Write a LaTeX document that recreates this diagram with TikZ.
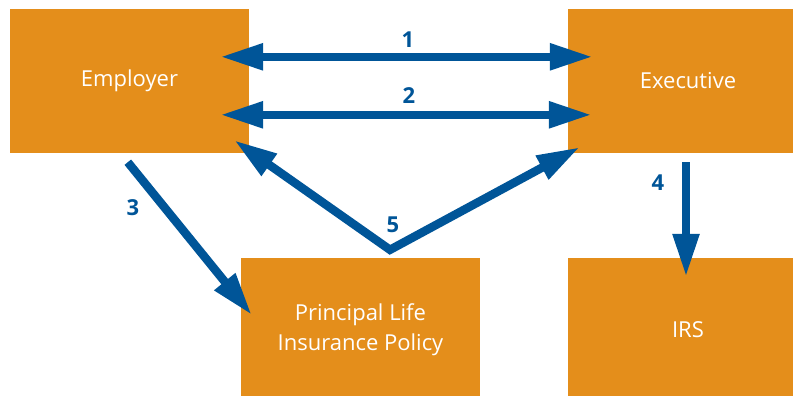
\documentclass[tikz,border=0pt]{standalone}
\usepackage{fontspec}
\setmainfont{Open Sans}
\usetikzlibrary{arrows.meta,calc}
\definecolor{boxorange}{RGB}{228,142,27}
\definecolor{flowblue}{RGB}{0,85,152}
\begin{document}
\begin{tikzpicture}[x=1pt,y=-1pt,
  party/.style={fill=boxorange, draw=none, inner sep=0pt,
    minimum width=240pt, minimum height=144pt, text=white,
    font=\fontsize{22}{30}\selectfont, align=center},
  flowtip/.tip={Triangle[length=43pt,width=25pt]},
  flow/.style={draw=flowblue, line width=8.5pt, line join=miter, -flowtip},
  twoway/.style={flow, flowtip-flowtip},
  numlabel/.style={text=flowblue, font=\fontsize{22}{26}\selectfont\bfseries, inner sep=0pt}
]
\useasboundingbox (0,0) rectangle (793,396);
\clip (0,0) rectangle (793,396);

% parties
\node[party, minimum width=239pt] (emp) at (129.5,81) {Employer};
\node[party] (exe) at (688,81) {Executive};
\node[party, minimum width=239pt] (pol) at (360.5,330) {Principal Life\\Insurance Policy};
\node[party] (irs) at (688,330) {IRS};

% connector end points
\coordinate (e1) at ($(emp.north east)+(-29,48)$);
\coordinate (e2) at ($(emp.north east)+(-29,106)$);
\coordinate (e3) at ($(emp.south west)+(118,9)$);
\coordinate (e5) at ($(emp.south east)+(-15,-13)$);
\coordinate (x1) at ($(exe.north west)+(25,48)$);
\coordinate (x2) at ($(exe.north west)+(24,106)$);
\coordinate (x4) at ($(exe.south)+(-2,9)$);
\coordinate (x5) at ($(exe.south west)+(12,-6)$);
\coordinate (p3) at ($(pol.west)+(11,-15)$);
\coordinate (p5) at ($(pol.north)+(29.5,-8)$);
\coordinate (i4) at ($(irs.north)+(-2,19)$);

% flows
\draw[twoway] (e1) -- (x1);
\draw[twoway] (e2) -- (x2);
\draw[flow] (e3) -- (p3);
\draw[flow] (x4) -- (i4);
\draw[twoway] (e5) -- (p5) -- (x5);

% flow numbers
\node[numlabel] (n1) at (408,40) {1};
\node[numlabel] (n2) at (409,96) {2};
\node[numlabel] (n3) at (133,208) {3};
\node[numlabel] (n4) at (658,183) {4};
\node[numlabel] (n5) at (393,225) {5};
\end{tikzpicture}
\end{document}
